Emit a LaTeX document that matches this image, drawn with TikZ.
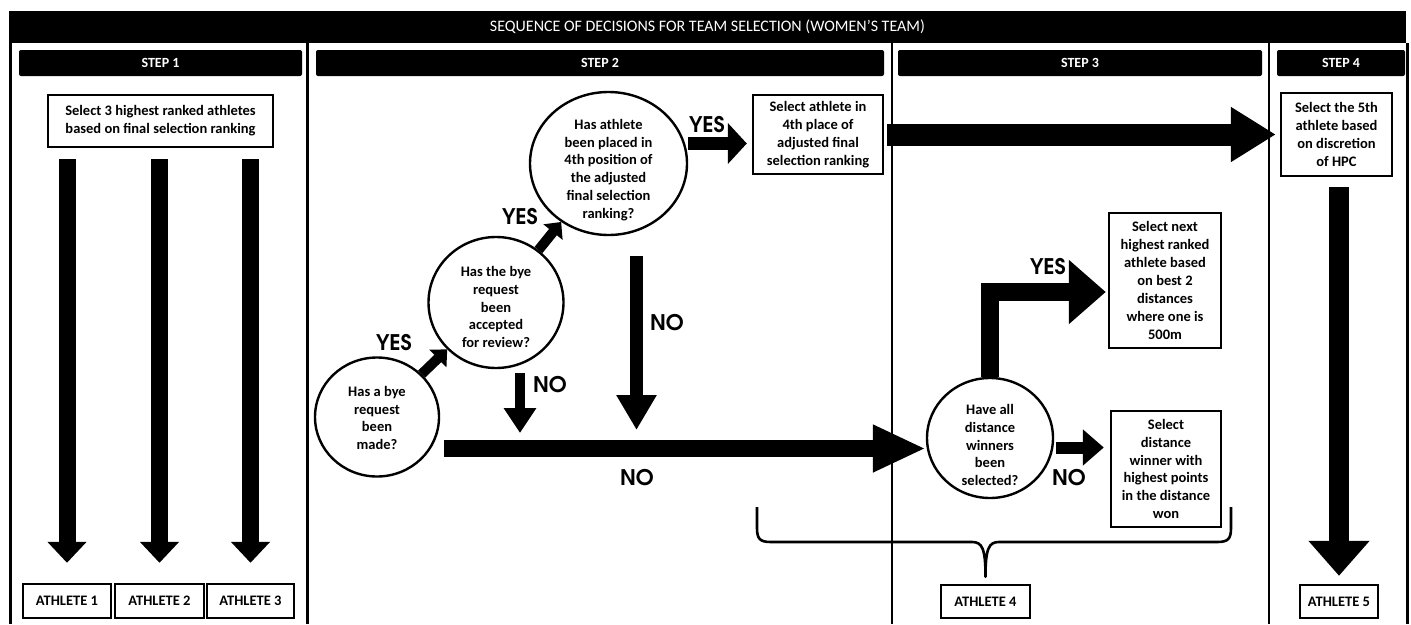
\documentclass[tikz,border=0pt]{standalone}
\usepackage{fontspec}
\setmainfont{Carlito}
\newfontfamily\advfont{TeX Gyre Adventor}
\usetikzlibrary{arrows.meta,shapes.geometric,calc}
\begin{document}
\begin{tikzpicture}[x=1pt,y=-1pt,
  txt/.style={font=\bfseries\fontsize{14.5}{17.9}\selectfont, align=center, text=black, inner sep=0pt},
  box/.style={txt, draw, line width=2.4pt},
  dec/.style={ellipse, draw, line width=2.4pt, inner sep=0pt},
  bar/.style={fill=black, rounded corners=2pt, text=white, font=\bfseries\fontsize{14}{16}\selectfont, inner sep=0pt},
  yn/.style={font=\advfont\bfseries\fontsize{21.5}{24}\selectfont, inner sep=1pt},
  frame/.style={line width=2.6pt},
  blk/.style={line cap=butt, line join=miter},
]
\useasboundingbox (0,0) rectangle (1411,624);
\fill[white] (0,0) rectangle (1411,624);

% frame and dividers
\draw[frame] (10.5,43) -- (10.5,624);
\draw[frame] (307.5,43) -- (307.5,624);
\draw[frame] (892,43) -- (892,624);
\draw[frame] (1269,43) -- (1269,624);
\draw[frame] (1407.5,43) -- (1407.5,624);

% title and step bars
\node[bar, minimum width=1397pt, minimum height=32pt, font=\fontsize{16}{18}\selectfont, rounded corners=0pt] (title) at (707.5,27) {SEQUENCE OF DECISIONS FOR TEAM SELECTION (WOMEN'S TEAM)};
\node[bar, minimum width=283pt, minimum height=26pt] (st1) at (160.5,63) {STEP 1};
\node[bar, minimum width=568pt, minimum height=26pt] (st2) at (600,63) {STEP 2};
\node[bar, minimum width=364pt, minimum height=26pt] (st3) at (1080,63) {STEP 3};
\node[bar, minimum width=128pt, minimum height=26pt] (st4) at (1341,63) {STEP 4};

% step 1
\node[box, minimum width=225pt, minimum height=52pt] (s1box) at (160.5,121) {Select 3 highest ranked athletes\\based on final selection ranking};
\node[box, minimum width=88pt, minimum height=34pt] (a1) at (67,601) {ATHLETE 1};
\node[box, minimum width=89pt, minimum height=34pt] (a2) at (159.5,601) {ATHLETE 2};
\node[box, minimum width=87pt, minimum height=34pt] (a3) at (250.5,601) {ATHLETE 3};

% step 2
\node[dec, minimum width=124pt, minimum height=119pt] (A) at (377,417) {};
\node[txt] (At) at (377,418) {Has a bye\\request\\been\\made?};
\node[dec, minimum width=135pt, minimum height=131pt] (B) at (496,302.5) {};
\node[txt] (Bt) at (496,307) {Has the bye\\request\\been\\accepted\\for review?};
\node[dec, minimum width=157pt, minimum height=143pt] (C) at (608.5,163.5) {};
\node[txt] (Ct) at (608.5,170) {Has athlete\\been placed in\\4th position of\\the adjusted\\final selection\\ranking?};
\node[box, minimum width=130pt, minimum height=79pt] (box1) at (818,134.5) {Select athlete in\\4th place of\\adjusted final\\selection ranking};

% step 3
\node[dec, minimum width=126pt, minimum height=120pt] (D) at (990,438) {};
\node[txt] (Dt) at (990,445) {Have all\\distance\\winners\\been\\selected?};
\node[box, minimum width=112pt, minimum height=135pt] (box2) at (1165,280.5) {Select next\\highest ranked\\athlete based\\on best 2\\distances\\where one is\\500m};
\node[box, minimum width=110pt, minimum height=116pt] (box3) at (1166,469) {Select\\distance\\winner with\\highest points\\in the distance\\won};
\node[box, minimum width=89pt, minimum height=33pt] (a4) at (985.5,601.5) {ATHLETE 4};

% step 4
\node[box, minimum width=111pt, minimum height=83pt] (s4box) at (1336.5,134.5) {Select the 5th\\athlete based\\on discretion\\of HPC};
\node[box, minimum width=78pt, minimum height=33pt] (a5) at (1339,601.5) {ATHLETE 5};

% helper coordinates
\coordinate (noY) at (0,448.5);
\coordinate (dnoY) at (0,447.5);
\coordinate (bnoX) at (520,0);
\coordinate (cnoX) at (636.5,0);

% step 1 arrows
\foreach \a in {a1,a2,a3}
  \draw[blk, line width=17pt, -{Triangle[length=21pt,width=38pt]}, shorten <=11pt, shorten >=20pt] (s1box.south -| \a) -- (\a.north);

% step 2 arrows
\draw[blk, line width=10pt, -{Triangle[length=13pt,width=24pt]}] (A) -- (B);
\draw[blk, line width=10pt, -{Triangle[length=13pt,width=24pt]}] (B) -- (C);
\draw[blk, line width=13pt, -{Triangle[length=19pt,width=40pt]}, shorten >=5pt] ([yshift=-9pt]box1.west -| C.east) -- ([yshift=-9pt]box1.west);
\draw[blk, line width=10pt, -{Triangle[length=25pt,width=31pt]}, shorten <=4pt, shorten >=15.5pt] (B.south -| bnoX) -- (bnoX |- noY);
\draw[blk, line width=13pt, -{Triangle[length=35pt,width=38pt]}, shorten <=20pt, shorten >=18.5pt] (C.south -| cnoX) -- (cnoX |- noY);
\draw[blk, line width=17pt, -{Triangle[length=53pt,width=44pt]}, shorten <=4pt] (A.east |- noY) -- (D.west |- noY);
\draw[blk, line width=22pt, -{Triangle[length=45pt,width=52pt]}, shorten <=3pt, shorten >=4pt] (box1.east) -- (s4box.west);

% step 3 arrows
\draw[blk, line width=17.5pt, -{Triangle[length=37pt,width=62pt]}, shorten >=2pt] (D.north) |- ([yshift=-11.5pt]box2.west);
\draw[blk, line width=12pt, -{Triangle[length=21pt,width=35pt]}, shorten <=2pt, shorten >=6pt] (D.east |- dnoY) -- (box3.west |- dnoY);

% step 4 arrow
\draw[blk, line width=20pt, -{Triangle[length=35pt,width=59pt]}, shorten <=10pt, shorten >=8pt] (s4box.south -| a5) -- (a5.north);

% brace to athlete 4
\draw[line width=2.6pt, line join=round] (757,507) -- (757,528) .. controls (757,539) and (760,542) .. (771,542) -- (972,542) .. controls (982,542) and (985.5,548) .. ([yshift=7pt]a4.north) .. controls (985.5,548) and (989,542) .. (999,542) -- (1217,542) .. controls (1228,542) and (1231,539) .. (1231,528) -- (1231,507);

% labels
\node[yn] (y1) at (394,343) {YES};
\node[yn] (y2) at (520,217) {YES};
\node[yn] (y3) at (707,125) {YES};
\node[yn] (n1) at (550,385) {NO};
\node[yn] (n2) at (667,323) {NO};
\node[yn] (n3) at (637,478) {NO};
\node[yn] (y4) at (1048,267) {YES};
\node[yn] (n4) at (1069,478) {NO};
\end{tikzpicture}
\end{document}
